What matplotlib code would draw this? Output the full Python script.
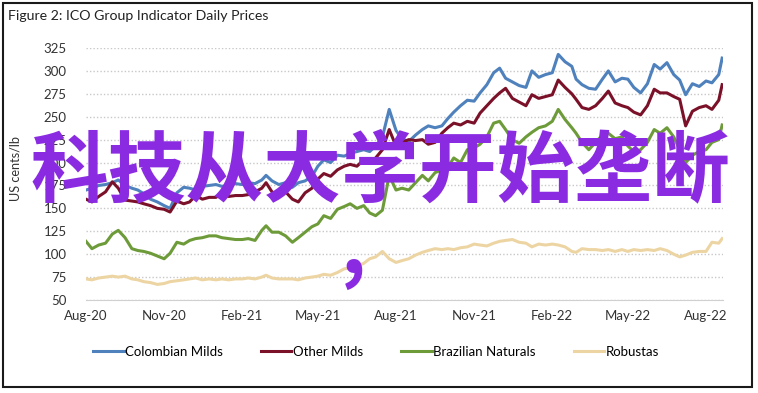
import numpy as np
import pandas as pd
import matplotlib
matplotlib.use("Agg")
import matplotlib.pyplot as plt
import matplotlib.dates as mdates
from matplotlib.patches import Rectangle

# sample days: 1st, 8th, 16th, 24th of each month, Aug-20 .. Aug-22
sample_days = [1, 8, 16, 24]
months = pd.date_range("2020-08-01", "2022-07-01", freq="MS")
dates = [m + pd.Timedelta(days=d - 1) for m in months for d in sample_days]
dates += [pd.Timestamp("2022-08-01"), pd.Timestamp("2022-08-08"),
          pd.Timestamp("2022-08-16"), pd.Timestamp("2022-08-20")]

colombian = [170, 172, 175, 176, 178, 181, 175, 172, 170, 166, 160, 157,
             153, 150, 167, 173, 172, 170, 174, 175, 176, 174, 175, 177,
             176, 178, 177, 181, 186, 180, 176, 178, 173, 178, 180, 185,
             196, 203, 200, 208, 207, 210, 212, 214, 212, 218, 228, 258,
             235, 226, 223, 230, 236, 240, 238, 240, 248, 255, 262, 268,
             267, 276, 285, 298, 303, 292, 288, 284, 282, 300, 293, 296,
             298, 318, 310, 305, 291, 285, 281, 280, 291, 300, 288, 292,
             291, 282, 276, 286, 307, 302, 309, 296, 290, 274, 286, 283,
             289, 287, 296, 314]

other_milds = [160, 157, 163, 168, 179, 172, 159, 158, 157, 155, 153, 150,
               149, 146, 158, 155, 157, 164, 160, 162, 162, 166, 163, 164,
               164, 165, 168, 172, 178, 168, 164, 168, 160, 157, 167, 172,
               182, 188, 185, 192, 196, 198, 196, 203, 200, 205, 214, 236,
               218, 222, 225, 224, 225, 220, 222, 232, 238, 243, 241, 245,
               243, 254, 262, 270, 276, 281, 270, 266, 262, 274, 270, 272,
               274, 290, 282, 275, 269, 260, 258, 262, 270, 278, 265, 262,
               260, 255, 252, 262, 280, 276, 276, 272, 269, 240, 256, 260,
               262, 258, 268, 285]

brazilian = [114, 106, 110, 112, 122, 126, 118, 106, 104, 103, 101, 98,
             95, 101, 113, 111, 115, 117, 118, 120, 120, 118, 117, 116,
             116, 117, 115, 126, 131, 124, 124, 120, 113, 118, 124, 130,
             133, 142, 139, 149, 152, 155, 150, 153, 145, 142, 148, 186,
             170, 172, 170, 178, 186, 180, 189, 192, 195, 205, 200, 214,
             216, 220, 228, 243, 245, 236, 225, 221, 228, 233, 238, 240,
             245, 258, 247, 238, 232, 222, 214, 222, 230, 232, 226, 228,
             218, 212, 214, 222, 236, 232, 238, 228, 214, 200, 208, 212,
             214, 222, 225, 241]

robustas = [73, 72, 74, 75, 76, 75, 76, 73, 72, 70, 69, 67,
            68, 70, 71, 72, 73, 74, 72, 73, 72, 73, 72, 73,
            73, 74, 73, 75, 77, 74, 73, 73, 73, 72, 74, 75,
            76, 78, 77, 80, 84, 85, 87, 90, 95, 97, 103, 95,
            91, 93, 95, 99, 102, 104, 106, 105, 106, 105, 107, 108,
            111, 110, 109, 112, 114, 115, 116, 113, 112, 108, 111, 110,
            111, 110, 108, 103, 102, 106, 105, 105, 104, 105, 103, 105,
            103, 105, 104, 105, 104, 106, 104, 100, 97, 99, 102, 103,
            103, 113, 112, 117]

series_names = ["Colombian Milds", "Other Milds", "Brazilian Naturals", "Robustas"]
colors = ["#4F81BD", "#7B1129", "#6E9B3A", "#EDD5A3"]

plt.rcParams["font.family"] = ["Lato", "DejaVu Sans"]

fig = plt.figure(figsize=(7.58, 3.93), dpi=100)
ax = fig.add_axes([86 / 758, 1 - 300 / 393, (723 - 86) / 758, (300 - 48) / 393])

for name, vals, c in zip(series_names, [colombian, other_milds, brazilian, robustas], colors):
    ax.plot(dates, vals, color=c, lw=2.2, label=name, solid_joinstyle="round")

ax.set_ylim(50, 325)
ax.set_yticks(range(50, 326, 25))
ax.set_xlim(pd.Timestamp("2020-08-01"), pd.Timestamp("2022-08-21"))
ax.xaxis.set_major_locator(mdates.MonthLocator(bymonth=[2, 5, 8, 11]))
ax.xaxis.set_major_formatter(mdates.DateFormatter("%b-%y"))

ax.grid(axis="y", linestyle=(0, (1, 1.5)), color="#C8C8C8", lw=1.0)
for s in ["top", "right", "left"]:
    ax.spines[s].set_visible(False)
ax.spines["bottom"].set_color("#D0D0D0")
ax.tick_params(length=0, labelsize=9.5, labelcolor="#333333")
ax.tick_params(axis="y", pad=14)
ax.tick_params(axis="x", pad=7)

fig.text(8 / 758, 1 - 16 / 393, "Figure 2: ICO Group Indicator Daily Prices",
         fontsize=10.2, color="#222222", ha="left", va="center")
fig.text(15 / 758, 1 - 168 / 393, "US cents/lb", rotation=90, fontsize=9.2,
         color="#333333", ha="center", va="center")

fig.legend(loc="center", bbox_to_anchor=(0.496, 1 - 352 / 393), ncol=4, frameon=False,
           fontsize=9.5, handlelength=2.3, handletextpad=0.1, columnspacing=2.9)

# overlay text
fig.text(380 / 758, 1 - 173 / 393, "科技从大学开始垄断", fontsize=56, color="#8A2BE2",
         family=["Noto Sans CJK SC", "DejaVu Sans"], weight="bold", ha="center", va="center")
fig.text(353 / 758, 1 - 250 / 393, ",", fontsize=56, color="#8A2BE2",
         family=["Noto Sans CJK SC", "DejaVu Sans"], weight="bold", ha="center", va="center")

fig.patches.append(Rectangle((3 / 758, 1 - 387 / 393), 749 / 758, 384 / 393,
                             transform=fig.transFigure, fill=False, ec="#1A1A1A", lw=1.5))

fig.savefig("out.png", dpi=100)
